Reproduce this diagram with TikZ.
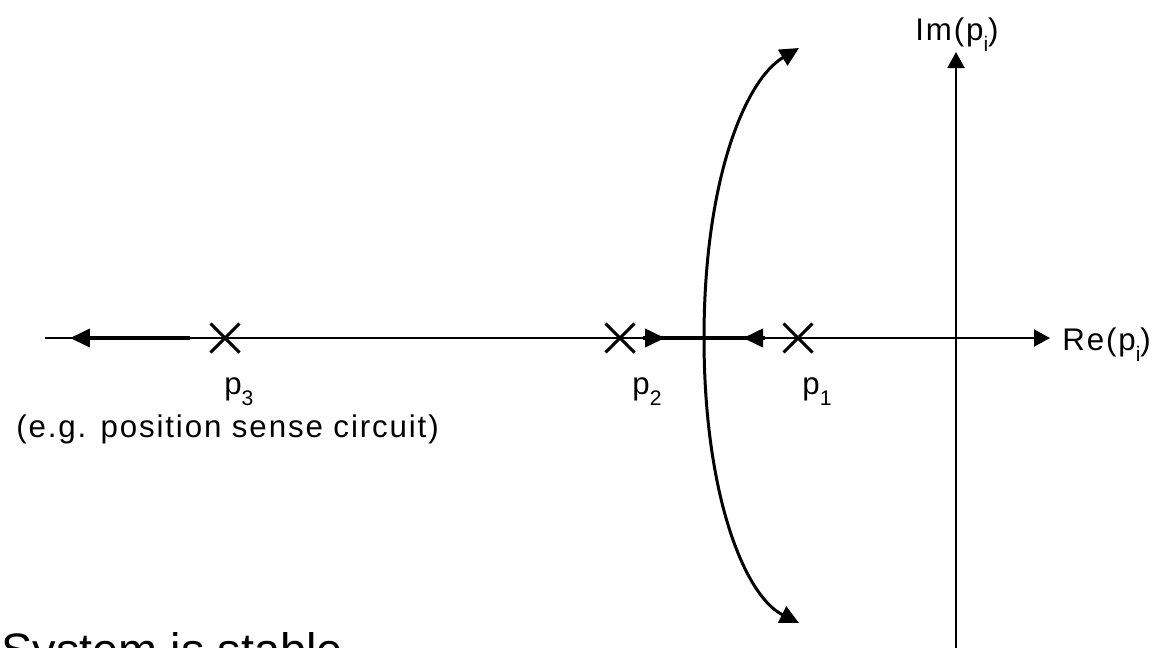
\documentclass[tikz,border=0pt]{standalone}
\usepackage{fontspec}
\setmainfont{Liberation Sans}
\newfontfamily\lblfont[LetterSpace=6]{Liberation Sans}
\usetikzlibrary{shapes.misc, arrows.meta, positioning, calc}
\newcommand{\lsub}[1]{\raisebox{-0.36em}{\fontsize{12}{12}\selectfont #1}}

\begin{document}
\begin{tikzpicture}[x=0.02cm, y=-0.02cm]
\tikzstyle{pole}=[cross out, draw, line width=0.06cm, minimum size=0.52cm, inner sep=0pt]
\tikzstyle{axis}=[line width=0.04cm, -{Triangle[length=0.32cm, width=0.34cm]}]
\tikzstyle{locus}=[line width=0.08cm]
\tikzstyle{branch}=[line width=0.08cm, -{Triangle[length=0.4cm, width=0.36cm]}]
\tikzstyle{curve}=[line width=0.06cm, -{Triangle[length=0.38cm, width=0.36cm]}]
\tikzstyle{lbl}=[font=\lblfont\fontsize{17.8}{20}\selectfont, inner sep=0pt, anchor=base west]

\clip (0,0) rectangle (1162,647);

% axes
\coordinate (reL) at (45,338);
\coordinate (reR) at (1050,338);
\coordinate (imB) at (956,660);
\coordinate (imT) at (956,52);
\draw[axis] (reL) -- (reR);
\draw[axis] (imB) -- (imT);
\node[lbl] (re) at (1062,350) {Re(p\lsub{i})};
\node[lbl] (im) at (915,40) {Im(p\lsub{i})};

% poles
\node[pole] (p3) at (225,338) {};
\node[pole] (p2) at (620,338) {};
\node[pole] (p1) at (798,338) {};
\node[lbl] (p3lbl) at (224,394) {p\lsub{3}};
\node[lbl] (p2lbl) at (632,394) {p\lsub{2}};
\node[lbl] (p1lbl) at (802,394) {p\lsub{1}};
\node[lbl] (note) at (16,437) {(e.g. position sense circuit)};

% root locus on the real axis
\coordinate (a3) at (190,338);
\coordinate (t3) at (70,338);
\coordinate (b2) at (643,338);
\coordinate (b1) at (765,338);
\draw[branch] (a3) -- (t3);
\draw[locus] (b2) -- (b1);
\draw[branch] (b2) -- ++(22,0);
\draw[branch] (b1) -- ++(-22,0);

% complex branches
\coordinate (brk) at (704,338);
\coordinate (upEnd) at (799,48);
\coordinate (dnEnd) at (799,623);
\draw[curve] (brk) .. controls (704,180) and (745,80) .. (upEnd);
\draw[curve] (brk) .. controls (704,496) and (745,596) .. (dnEnd);

\node[font=\fontsize{26.7}{30}\selectfont, inner sep=0pt, anchor=base west] (verdict) at (1,666) {System is stable};
\end{tikzpicture}
\end{document}
